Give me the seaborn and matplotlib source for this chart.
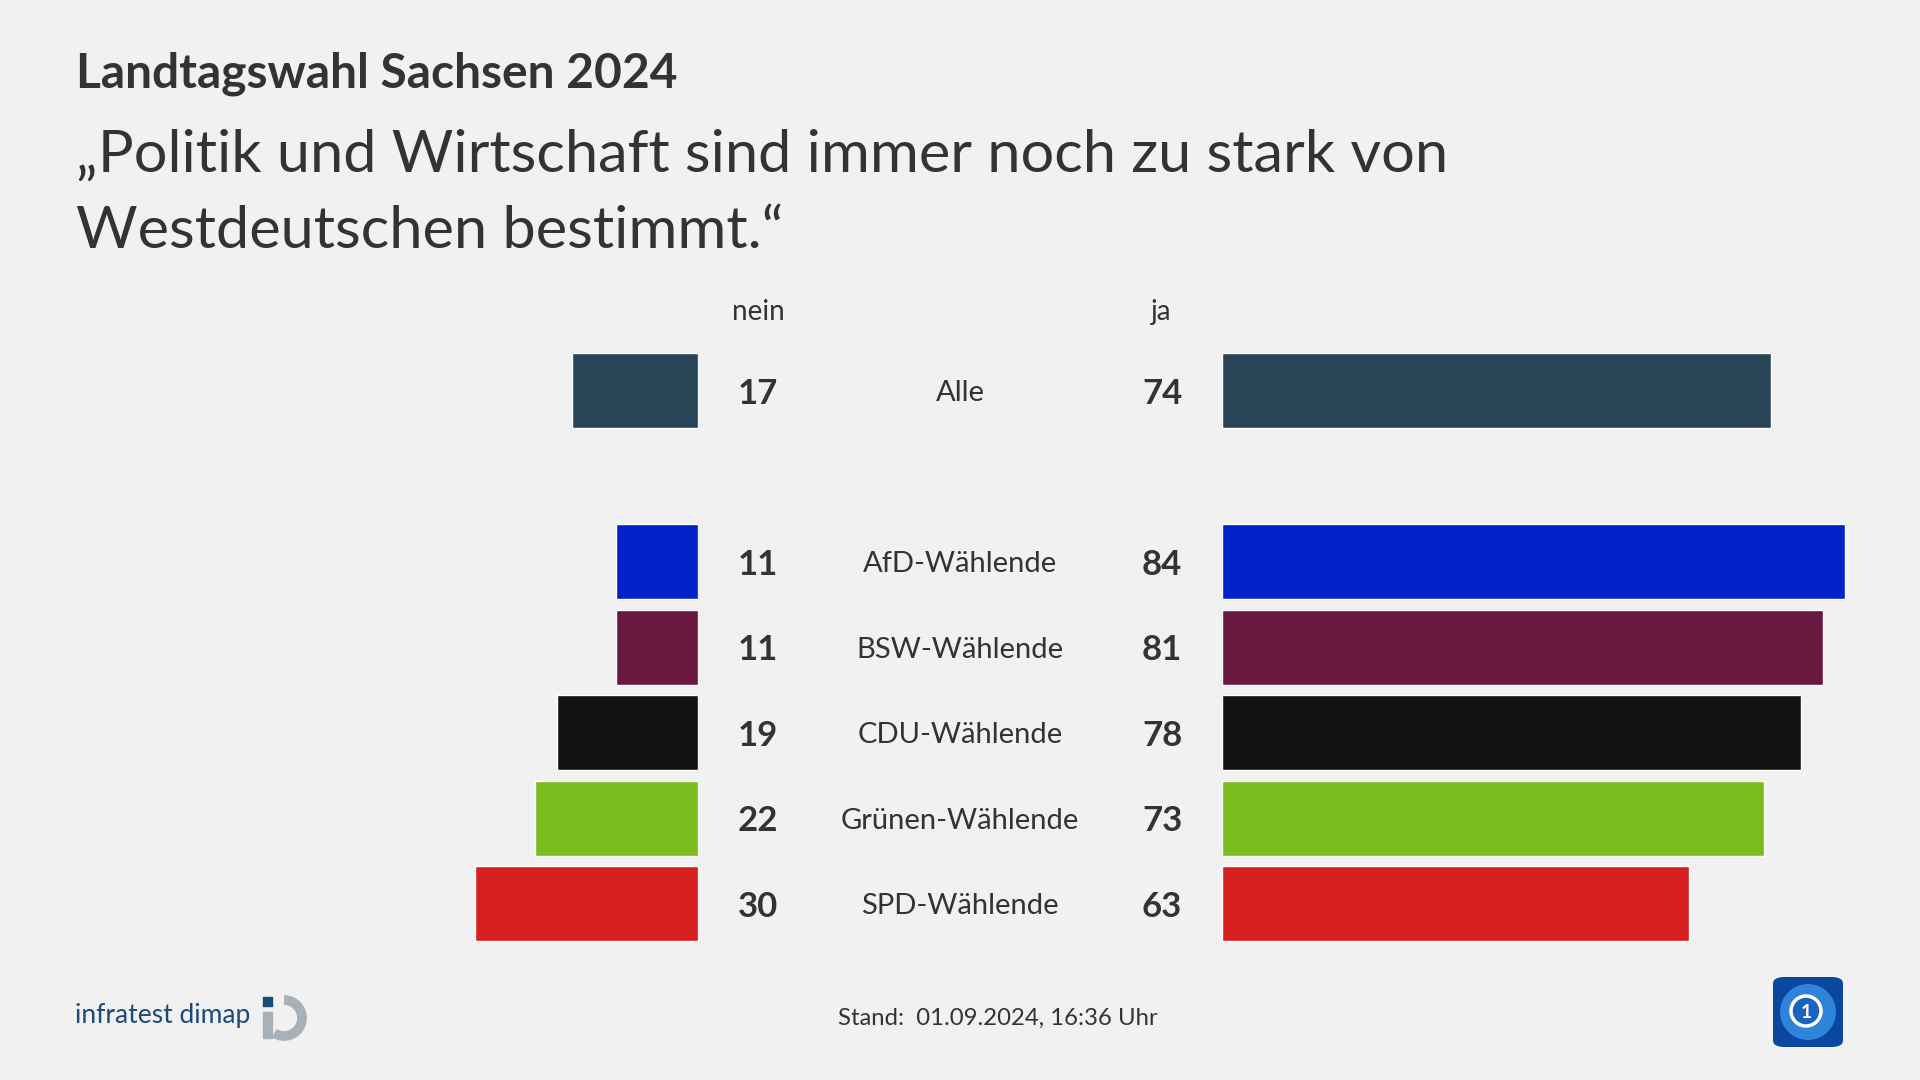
import pandas as pd
import numpy as np
import matplotlib.pyplot as plt
import matplotlib.transforms as mtrans
from matplotlib.patches import FancyBboxPatch, Rectangle, Ellipse, Arc
import seaborn as sns

# data
gruppen = ["Alle", "AfD-Wählende", "BSW-Wählende", "CDU-Wählende", "Grünen-Wählende", "SPD-Wählende"]
nein = [17, 11, 11, 19, 22, 30]
ja = [74, 84, 81, 78, 73, 63]
farben = ["#2a4557", "#0022c8", "#6a1a40", "#121212", "#79bc1c", "#d71f1f"]

titel = "Landtagswahl Sachsen 2024"
frage = ["\u201ePolitik und Wirtschaft sind immer noch zu stark von",
         "Westdeutschen bestimmt.\u201c"]
stand = "Stand:  01.09.2024, 16:36 Uhr"

df = pd.DataFrame({"gruppe": gruppen, "nein": nein, "ja": ja})
# leere Zeile zwischen "Alle" und den Parteien
reihenfolge = [gruppen[0], " "] + gruppen[1:]
palette = dict(zip(gruppen, farben))

BG = "#f1f1f1"
TXT = "#333333"

sns.set_theme(style="white")
plt.rcParams["font.family"] = ["Lato", "DejaVu Sans"]

fig = plt.figure(figsize=(19.2, 10.8), dpi=100, facecolor=BG)

# axes positions (figure fractions)
ax_bottom = 1 - 946.5 / 1080
ax_height = (946.5 - 347.8) / 1080
px_per_unit = 7.42
links_max = 40
rechts_max = 90
ax_l = fig.add_axes([698 / 1920 - links_max * px_per_unit / 1920, ax_bottom,
                     links_max * px_per_unit / 1920, ax_height])
ax_r = fig.add_axes([1222 / 1920, ax_bottom, rechts_max * px_per_unit / 1920, ax_height])

sns.barplot(data=df, x="nein", y="gruppe", hue="gruppe", order=reihenfolge,
            palette=palette, saturation=1, width=0.88, legend=False, ax=ax_l)
sns.barplot(data=df, x="ja", y="gruppe", hue="gruppe", order=reihenfolge,
            palette=palette, saturation=1, width=0.88, legend=False, ax=ax_r)

ax_l.set_xlim(links_max, 0)
ax_r.set_xlim(0, rechts_max)
for ax in (ax_l, ax_r):
    ax.set_ylim(len(reihenfolge) - 0.5, -0.5)
    ax.set_facecolor("none")
    ax.set_xlabel("")
    ax.set_ylabel("")
    ax.set_xticks([])
    ax.set_yticks([])
    for s in ax.spines.values():
        s.set_visible(False)

# Werte und Gruppennamen
trans = mtrans.blended_transform_factory(fig.transFigure, ax_l.transData)
for g, n, j in zip(gruppen, nein, ja):
    yy = reihenfolge.index(g)
    fig.text(758 / 1920, yy, str(n), transform=trans, ha="center", va="center_baseline",
             fontsize=25, fontweight="bold", color=TXT)
    fig.text(1162 / 1920, yy, str(j), transform=trans, ha="center", va="center_baseline",
             fontsize=25, fontweight="bold", color=TXT)
    fig.text(960 / 1920, yy, g, transform=trans, ha="center", va="center_baseline",
             fontsize=21, color=TXT)

fig.text(758 / 1920, 1 - 320 / 1080, "nein", ha="center", va="baseline", fontsize=20, color=TXT)
fig.text(1161 / 1920, 1 - 320 / 1080, "ja", ha="center", va="baseline", fontsize=20, color=TXT)

# Titel
fig.text(76 / 1920, 1 - 87 / 1080, titel, ha="left", va="baseline",
         fontsize=34.5, fontweight="bold", color=TXT)
fig.text(76 / 1920, 1 - 172 / 1080, frage[0], ha="left", va="baseline", fontsize=42.8, color=TXT)
fig.text(76 / 1920, 1 - 248 / 1080, frage[1], ha="left", va="baseline", fontsize=42.8, color=TXT)

# Fußzeile
fig.text(998 / 1920, 1 - 1025 / 1080, stand, ha="center", va="baseline", fontsize=17.2, color=TXT)
fig.text(75 / 1920, 1 - 1023 / 1080, "infratest dimap", ha="left", va="baseline",
         fontsize=19, color="#1b4a7c")

ft = fig.transFigure
def fx(p):
    return p / 1920
def fy(p):
    return 1 - p / 1080

# infratest dimap Zeichen
fig.patches.append(Rectangle((fx(263), fy(1006)), 9 / 1920, 9 / 1080, transform=ft,
                             color="#1b4a7c"))
fig.patches.append(Rectangle((fx(263), fy(1038)), 9 / 1920, 26 / 1080, transform=ft,
                             color="#a9b0b6"))
fig.patches.append(Arc((fx(284), fy(1018)), 36 / 1920, 36 / 1080, theta1=-110, theta2=90,
                       transform=ft, color="#a9b0b6", lw=7))

# ARD Logo
fig.patches.append(FancyBboxPatch((fx(1773), fy(1047)), 70 / 1920, 70 / 1080,
                                  boxstyle="round,pad=0,rounding_size=0.006",
                                  transform=ft, facecolor="#0a47a0", edgecolor="none"))
fig.patches.append(Ellipse((fx(1808), fy(1012)), 56 / 1920, 56 / 1080, transform=ft,
                           facecolor="#2f84da", edgecolor="none"))
fig.patches.append(Ellipse((fx(1806), fy(1011)), 30 / 1920, 30 / 1080, transform=ft,
                           facecolor="#1a63c0", edgecolor="white", lw=2.5))
fig.text(fx(1806), fy(1011), "1", transform=ft, ha="center", va="center_baseline",
         fontsize=14, fontweight="bold", color="white")

fig.savefig("out.png", dpi=100, facecolor=BG)
